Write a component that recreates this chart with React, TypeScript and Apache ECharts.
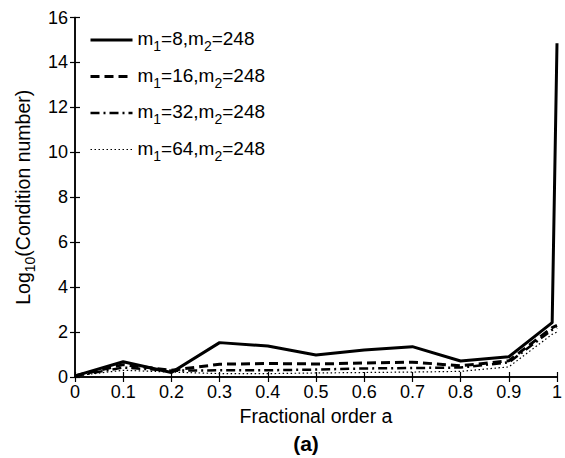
import React, { useEffect, useRef } from "react";
import * as echarts from "echarts";

const xValues = [0, 0.1, 0.2, 0.3, 0.4, 0.5, 0.6, 0.7, 0.8, 0.9, 0.99, 1];
const seriesNames = ["m1=8,m2=248", "m1=16,m2=248", "m1=32,m2=248", "m1=64,m2=248"];
const legendLabels = [
  "{n|m}{s|1}{n|=8,m}{s|2}{n|=248}",
  "{n|m}{s|1}{n|=16,m}{s|2}{n|=248}",
  "{n|m}{s|1}{n|=32,m}{s|2}{n|=248}",
  "{n|m}{s|1}{n|=64,m}{s|2}{n|=248}",
];
const m8 = [0.05, 0.68, 0.2, 1.53, 1.38, 0.98, 1.2, 1.35, 0.71, 0.9, 2.42, 14.85];
const m16 = [0.05, 0.55, 0.3, 0.57, 0.6, 0.58, 0.62, 0.66, 0.5, 0.72, 2.2, 2.3];
const m32 = [0.05, 0.42, 0.28, 0.3, 0.3, 0.33, 0.38, 0.4, 0.42, 0.65, 2.1, 2.2];
const m64 = [0.05, 0.3, 0.22, 0.15, 0.15, 0.18, 0.2, 0.22, 0.25, 0.45, 1.9, 2.0];
const xTicks = [0, 0.1, 0.2, 0.3, 0.4, 0.5, 0.6, 0.7, 0.8, 0.9, 1];
const yTicks = [0, 2, 4, 6, 8, 10, 12, 14, 16];

const FONT = "Liberation Sans";

export default function App() {
  const ref = useRef<HTMLDivElement>(null);
  useEffect(() => {
    document.body.style.margin = "0";
    const chart = echarts.init(ref.current!, null, { renderer: "svg" });
    const pair = (arr: number[]) => arr.map((v, i) => [xValues[i], v]);
    const styles = [
      { type: "solid", width: 3 },
      { type: [9, 5], width: 3 },
      { type: [9, 4, 2, 4], width: 2.5 },
      { type: [1.5, 2.5], width: 1.2 },
    ];
    const data = [m8, m16, m32, m64];
    const axisLine = { show: true, lineStyle: { color: "#000", width: 1.5 } };
    const tick = { show: true, inside: true, length: 5, lineStyle: { color: "#000", width: 1.2 } };
    const rich = {
      n: { fontSize: 19, fontFamily: FONT, color: "#000", verticalAlign: "top", lineHeight: 22 },
      s: { fontSize: 14, fontFamily: FONT, color: "#000", verticalAlign: "top", padding: [10, 0, 0, 0], lineHeight: 15 },
    };
    chart.setOption({
      animation: false,
      grid: { left: 75, right: 8, top: 17.5, bottom: 81, containLabel: false },
      xAxis: [
        {
          type: "value",
          min: 0,
          max: 1,
          interval: 0.1,
          position: "bottom",
          axisLine,
          axisTick: tick,
          splitLine: { show: false },
          axisLabel: {
            color: "#000",
            fontSize: 18,
            fontFamily: FONT,
            margin: 6,
            formatter: (v: number) => {
              const r = Math.round(v * 10) / 10;
              return xTicks.includes(r) ? String(r) : "";
            },
          },
          name: "Fractional order a",
          nameLocation: "middle",
          nameGap: 26,
          nameTextStyle: { color: "#000", fontSize: 19.5, fontFamily: FONT, verticalAlign: "top" },
        },
        {
          type: "value",
          min: 0,
          max: 1,
          interval: 0.1,
          position: "top",
          axisLine,
          axisTick: tick,
          axisLabel: { show: false },
          splitLine: { show: false },
        },
      ],
      yAxis: [
        {
          type: "value",
          min: 0,
          max: 16,
          interval: 2,
          position: "left",
          axisLine,
          axisTick: tick,
          splitLine: { show: false },
          axisLabel: {
            color: "#000",
            fontSize: 18,
            fontFamily: FONT,
            margin: 7,
            formatter: (v: number) => (yTicks.includes(v) ? String(v) : ""),
          },
          name: "Log{s|10}(Condition number)",
          nameLocation: "middle",
          nameGap: 37,
          nameTextStyle: { color: "#000", fontSize: 19.5, fontFamily: FONT, rich },
        },
        {
          type: "value",
          min: 0,
          max: 16,
          interval: 2,
          position: "right",
          axisLine,
          axisTick: tick,
          axisLabel: { show: false },
          splitLine: { show: false },
        },
      ],
      legend: {
        orient: "vertical",
        left: 89,
        top: 29,
        padding: 0,
        itemGap: 12.5,
        itemWidth: 42,
        itemHeight: 14,
        itemStyle: { opacity: 0 },
        data: seriesNames.map((name, i) => ({
          name,
          itemStyle: { opacity: 0 },
          lineStyle: { color: "#000", width: styles[i].width, type: styles[i].type as any },
        })),
        formatter: (name: string) => legendLabels[seriesNames.indexOf(name)],
        textStyle: { color: "#000", fontSize: 19, fontFamily: FONT, rich },
      },
      series: data.map((arr, i) => ({
        name: seriesNames[i],
        type: "line",
        xAxisIndex: 0,
        yAxisIndex: 0,
        symbol: "none",
        showSymbol: false,
        data: pair(arr),
        lineStyle: { color: "#000", width: styles[i].width, type: styles[i].type as any },
        itemStyle: { color: "#000" },
      })),
      graphic: [
        {
          type: "text",
          x: 306,
          y: 443,
          style: {
            text: "(a)",
            fontSize: 21,
            fontWeight: "bold",
            fontFamily: FONT,
            fill: "#000",
            textAlign: "center",
            textVerticalAlign: "middle",
          },
        },
      ],
    });
    return () => chart.dispose();
  }, []);
  return <div ref={ref} style={{ width: 565, height: 458 }} />;
}
